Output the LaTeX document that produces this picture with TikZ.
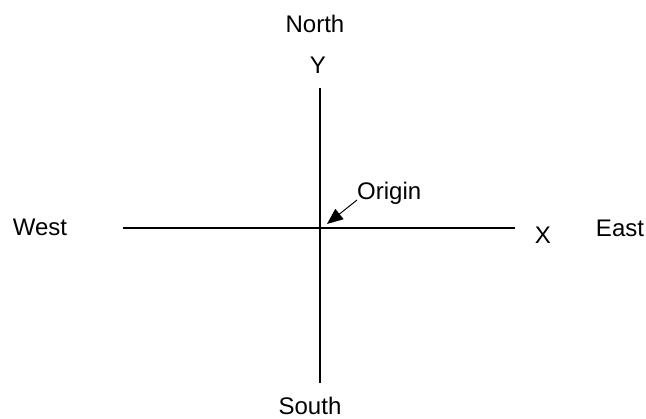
\documentclass[tikz,border=0pt]{standalone}
\usepackage{fontspec}
\setmainfont{Liberation Sans}
\usetikzlibrary{arrows.meta,positioning}
\tikzset{
  axisln/.style={line width=1.3pt, black},
  pointer/.style={-{Triangle[length=16pt,width=13pt]}, line width=1pt},
  lbl/.style={font=\fontsize{24}{28}\selectfont, inner sep=0pt},
}

\begin{document}
\begin{tikzpicture}[x=1pt,y=-1pt]
        \useasboundingbox (0,0) rectangle (646,419);
        % axes
        \coordinate (xleft) at (123,228);
        \coordinate (xright) at (515,228);
        \coordinate (ytop) at (320,88);
        \coordinate (ybot) at (320,383);
        \draw[axisln] (xleft) -- (xright);
        \draw[axisln] (ytop) -- (ybot);
        % labels
        \node[lbl] (west) at (40,227) {West};
        \node[lbl] (east) at (620,228) {East};
        \node[lbl] (north) at (315,24) {North};
        \node[lbl] (south) at (310,406) {South};
        \node[lbl] (xlab) at (543,235) {X};
        \node[lbl] (ylab) at (318,65) {Y};
        \node[lbl, anchor=base west] (orig) at (357,200) {Origin};
        \coordinate (tip) at (327,224);
        \draw[pointer] (orig.base west) -- (tip);
      \end{tikzpicture}
\end{document}
